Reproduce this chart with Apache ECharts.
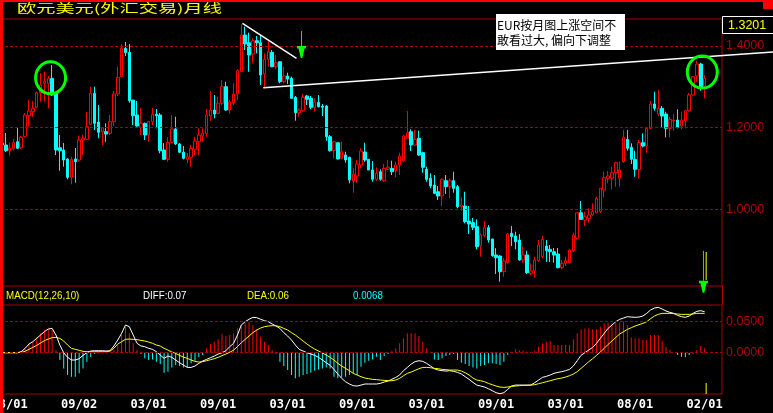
<!DOCTYPE html>
<html><head><meta charset="utf-8">
<script src="https://cdn.jsdelivr.net/npm/echarts@6/dist/echarts.min.js"></script>
<style>html,body{margin:0;padding:0;background:#000;overflow:hidden}#c{width:773px;height:413px;}</style>
</head><body><div id="c"></div>
<script>
// ---- data (monthly EUR/USD) ----
const openP = [1.1623,1.1574,1.1434,1.1493,1.1654,1.1517,1.1777,1.2292,1.2390,1.2498,1.2855,1.3086,1.3086,1.3208,1.2841,1.1507,1.1451,1.1230,1.0782,1.1230,
1.1206,1.1696,1.1713,1.2081,1.2841,1.2137,1.1900,1.1900,1.1860,1.2145,1.2824,1.3248,1.3944,1.3846,1.2676,1.2309,1.2007,1.2105,1.1819,1.2145,
1.2326,1.2309,1.1451,1.1223,1.1640,1.1966,1.1598,1.1395,1.1223,1.1272,1.1468,1.1654,1.1794,1.1860,1.2284,1.2431,1.2350,1.2596,1.3002,1.2431,
1.2610,1.2824,1.3370,1.4270,1.4081,1.3804,1.4130,1.4081,1.3314,1.3674,1.3846,1.3493,1.3615,1.3125,1.3265,1.3208,1.2743,1.2365,1.2414,1.2775,
1.2718,1.2498,1.2620,1.2529,1.2529,1.1777,1.1434,1.1630,1.1248,1.1328,1.1272,1.0691,1.0814,1.1083,1.1402,1.1223,1.0961,1.0733,1.0919,1.0699,
1.0978,1.1002,1.0944,1.1083,1.1189,1.1738,1.1900,1.1574,1.1738,1.1385,1.0978,1.0757,1.0593,1.0429,1.0324,1.0699,1.0552,1.0699,1.0552,1.0061,
1.0078,0.9711,0.9670,0.9572,0.9106,0.9351,0.9547,0.9270,0.8878,0.8853,0.8468,0.8690,0.9409,0.9343,0.9245,0.8755,0.8878,0.8429,0.8493,0.8738,
0.8836,0.9098,0.9017,0.8958,0.8902,0.8567,0.8674,0.8690,0.8983,0.9287,0.9914,0.9735,0.9776,0.9858,0.9914,0.9939,1.0471,1.0757,1.0757,1.0895,
1.0757,1.1164,1.1713,1.1517,1.1223,1.0978,1.1630,1.1549,1.1983,1.2578,1.2333,1.2473,1.2333,1.1983,1.2169,1.2186,1.2039,1.2169,1.2414,1.2799,
1.3265,1.3559,1.3020];
const closeP = [1.1574,1.1434,1.1500,1.1630,1.1493,1.1762,1.2309,1.2407,1.2473,1.2855,1.3044,1.3125,1.3208,1.2799,1.1451,1.1434,1.1206,1.0782,1.1223,1.1164,
1.1696,1.1738,1.2022,1.2841,1.2105,1.1885,1.1997,1.1843,1.2145,1.2824,1.3233,1.3944,1.3836,1.2659,1.2292,1.2039,1.2105,1.1819,1.2145,1.2326,
1.2292,1.1434,1.1223,1.1640,1.1966,1.1598,1.1395,1.1248,1.1287,1.1493,1.1672,1.1819,1.1860,1.2309,1.2431,1.2333,1.2596,1.3002,1.2431,1.2635,
1.2824,1.3395,1.4270,1.4049,1.3779,1.4130,1.4081,1.3289,1.3674,1.3860,1.3493,1.3591,1.3125,1.3265,1.3191,1.2718,1.2365,1.2431,1.2743,1.2694,
1.2498,1.2620,1.2512,1.2498,1.1777,1.1434,1.1654,1.1230,1.1409,1.1206,1.0716,1.0863,1.1108,1.1426,1.1206,1.0961,1.0733,1.0880,1.0733,1.1002,
1.1027,1.0919,1.1083,1.1304,1.1794,1.1875,1.1574,1.1713,1.1328,1.1027,1.0733,1.0569,1.0390,1.0324,1.0733,1.0552,1.0699,1.0512,1.0061,1.0103,
0.9694,0.9637,0.9556,0.9081,0.9368,0.9547,0.9245,0.8860,0.8811,0.8468,0.8731,0.9392,0.9327,0.9204,0.8755,0.8878,0.8444,0.8486,0.8755,0.9123,
0.9262,0.8983,0.8958,0.8878,0.8567,0.8674,0.8739,0.9000,0.9368,0.9914,0.9752,0.9816,0.9858,0.9939,1.0267,1.0512,1.0772,1.0814,1.0895,1.1140,
1.0961,1.1762,1.1493,1.1223,1.0978,1.1630,1.1549,1.1983,1.2578,1.2473,1.2473,1.2284,1.1983,1.2203,1.2186,1.2007,1.2186,1.2414,1.2799,1.3248,
1.3559,1.2963,1.3201];
const lowP = [1.1500,1.1402,1.1311,1.1434,1.1475,1.1475,1.1762,1.2022,1.2260,1.2473,1.2635,1.2635,1.2473,1.2775,1.1328,1.0944,1.1042,1.0733,1.0610,1.0649,
1.1164,1.1328,1.1696,1.2064,1.1941,1.1738,1.1574,1.1654,1.1819,1.2039,1.2775,1.3240,1.3755,1.2610,1.2064,1.2022,1.1819,1.1696,1.1654,1.2064,
1.1983,1.1370,1.1206,1.1164,1.1615,1.1574,1.1377,1.1223,1.1132,1.1042,1.1328,1.1328,1.1654,1.1777,1.2169,1.2228,1.2333,1.2554,1.2414,1.2350,
1.2554,1.2676,1.3355,1.3902,1.3370,1.3576,1.3821,1.3044,1.2963,1.3493,1.3478,1.3429,1.3086,1.3086,1.3069,1.2718,1.2169,1.2267,1.2390,1.2554,
1.2449,1.2390,1.2498,1.2284,1.1679,1.1414,1.1248,1.1223,1.1223,1.1140,1.0635,1.0405,1.0649,1.1002,1.1164,1.0961,1.0674,1.0699,1.0699,1.0674,
1.0961,1.0838,1.0782,1.0838,1.1164,1.1738,1.1426,1.1549,1.1304,1.0895,1.0674,1.0512,1.0373,1.0225,1.0078,1.0373,1.0267,1.0405,1.0022,0.9963,
0.9654,0.9392,0.9490,0.9017,0.8836,0.9327,0.9180,0.8836,0.8412,0.8223,0.8346,0.8670,0.9098,0.9017,0.8738,0.8690,0.8412,0.8388,0.8331,0.8714,
0.8796,0.8714,0.8706,0.8690,0.8551,0.8527,0.8608,0.8674,0.8958,0.9262,0.9735,0.9588,0.9670,0.9833,0.9899,0.9914,1.0292,1.0635,1.0488,1.0552,
1.0552,1.1140,1.1434,1.1108,1.0797,1.0757,1.1517,1.1385,1.1958,1.2414,1.2284,1.2007,1.1762,1.1762,1.1924,1.1983,1.1958,1.1983,1.2390,1.2775,
1.3125,1.2904,1.2718];
const highP = [1.1696,1.1868,1.1630,1.1721,1.2007,1.1794,1.2358,1.2676,1.2652,1.2880,1.3338,1.3370,1.3265,1.3534,1.2848,1.1819,1.1623,1.1255,1.1287,1.1500,
1.1794,1.1819,1.2382,1.3002,1.3002,1.2554,1.1997,1.2105,1.2309,1.2897,1.3493,1.4049,1.4098,1.4049,1.2676,1.2652,1.2480,1.2120,1.2169,1.2480,
1.2456,1.2358,1.1623,1.1762,1.2309,1.2267,1.1623,1.1549,1.1377,1.1574,1.1777,1.1983,1.1983,1.2456,1.2897,1.2799,1.2758,1.3167,1.3125,1.2676,
1.3086,1.3429,1.4532,1.4473,1.4326,1.4189,1.4245,1.4270,1.3821,1.4147,1.3902,1.3779,1.3615,1.3493,1.3346,1.3248,1.2775,1.2473,1.2824,1.2799,
1.2775,1.2718,1.2799,1.2578,1.2554,1.1819,1.1679,1.1630,1.1654,1.1409,1.1287,1.1002,1.1206,1.1493,1.1630,1.1223,1.1181,1.1027,1.0978,1.1108,
1.1206,1.1189,1.1164,1.1385,1.1819,1.2407,1.1958,1.1941,1.1924,1.1409,1.1042,1.0880,1.0838,1.0569,1.0757,1.0838,1.0757,1.0919,1.0593,1.0292,
1.0429,1.0078,0.9784,0.9752,0.9409,0.9711,0.9613,0.9270,0.9045,0.8878,0.8796,0.9417,0.9588,0.9449,0.9392,0.9082,0.8983,0.8674,0.8836,0.9245,
0.9343,0.9245,0.9123,0.9049,0.9049,0.8755,0.8836,0.9017,0.9425,0.9914,1.0201,0.9939,1.0022,1.0144,1.0307,1.0512,1.0919,1.0936,1.1042,1.1164,
1.1164,1.1941,1.1941,1.1615,1.1434,1.1696,1.1860,1.2022,1.2652,1.2880,1.2922,1.2529,1.2390,1.2267,1.2333,1.2449,1.2390,1.2431,1.2855,1.3265,
1.3640,1.3591,1.3289];
const macdHist = [0,0,0,0,0,0.0032,0.0070,0.0151,0.0177,0.0247,0.0312,0.0366,0.0382,0.0366,0.0043,-0.0118,-0.0253,-0.0360,-0.0387,-0.0387,
-0.0333,-0.0253,-0.0145,-0.0065,-0.0022,0.0032,0.0020,0.0010,0.0030,0.0043,0.0124,0.0285,0.0419,0.0312,0.0151,0.0043,-0.0022,-0.0091,-0.0118,-0.0108,
-0.0145,-0.0183,-0.0323,-0.0306,-0.0237,-0.0199,-0.0215,-0.0237,-0.0237,-0.0172,-0.0129,-0.0075,-0.0038,0.0070,0.0140,0.0177,0.0215,0.0301,0.0269,0.0285,
0.0312,0.0392,0.0446,0.0484,0.0500,0.0446,0.0376,0.0258,0.0177,0.0124,0.0043,-0.0011,-0.0145,-0.0215,-0.0280,-0.0360,-0.0414,-0.0387,-0.0360,-0.0344,
-0.0323,-0.0290,-0.0269,-0.0253,-0.0237,-0.0253,-0.0387,-0.0414,-0.0398,-0.0387,-0.0360,-0.0333,-0.0360,-0.0226,-0.0161,-0.0129,-0.0108,-0.0065,-0.0118,-0.0054,
-0.0022,0.0032,0.0070,0.0151,0.0231,0.0312,0.0312,0.0312,0.0269,0.0177,0.0070,0.0016,-0.0108,-0.0118,-0.0091,-0.0054,-0.0038,-0.0022,-0.0118,-0.0161,
-0.0183,-0.0215,-0.0237,-0.0253,-0.0215,-0.0199,-0.0172,-0.0172,-0.0183,-0.0199,-0.0145,-0.0038,0.0016,0.0054,0.0043,0.0032,0.0016,0.0011,0.0032,0.0097,
0.0151,0.0177,0.0188,0.0124,0.0124,0.0124,0.0124,0.0124,0.0215,0.0312,0.0376,0.0392,0.0392,0.0376,0.0376,0.0419,0.0473,0.0484,0.0473,0.0473,
0.0484,0.0500,0.0446,0.0247,0.0231,0.0231,0.0204,0.0204,0.0285,0.0285,0.0285,0.0194,0.0097,0.0043,0,-0.0038,-0.0065,-0.0075,-0.0038,-0.0011,
0.0043,0.0108,0.0070];
const macdDiff = [0,0,0,0,0,0.0016,0.0070,0.0140,0.0177,0.0231,0.0285,0.0339,0.0382,0.0392,0.0285,0.0124,0,-0.0075,-0.0118,-0.0118,
-0.0097,-0.0043,0,0.0027,0.0032,0.0032,0.0032,0.0027,0.0032,0.0108,0.0204,0.0312,0.0446,0.0419,0.0285,0.0151,0.0108,0.0097,0.0070,0.0054,
0.0016,-0.0038,-0.0091,-0.0054,-0.0075,-0.0118,-0.0161,-0.0199,-0.0237,-0.0237,-0.0215,-0.0172,-0.0134,-0.0108,-0.0081,-0.0054,-0.0022,0,0.0032,0.0097,
0.0151,0.0285,0.0446,0.0500,0.0538,0.0570,0.0565,0.0538,0.0516,0.0500,0.0462,0.0430,0.0392,0.0323,0.0269,0.0204,0.0124,0.0054,0.0027,0,
-0.0022,-0.0043,-0.0075,-0.0118,-0.0161,-0.0204,-0.0269,-0.0344,-0.0414,-0.0468,-0.0505,-0.0532,-0.0538,-0.0522,-0.0505,-0.0505,-0.0505,-0.0505,-0.0495,-0.0473,
-0.0457,-0.0430,-0.0398,-0.0360,-0.0290,-0.0237,-0.0183,-0.0145,-0.0129,-0.0140,-0.0172,-0.0215,-0.0258,-0.0280,-0.0290,-0.0296,-0.0290,-0.0301,-0.0317,-0.0344,
-0.0387,-0.0430,-0.0478,-0.0522,-0.0538,-0.0554,-0.0581,-0.0613,-0.0645,-0.0661,-0.0645,-0.0591,-0.0538,-0.0522,-0.0522,-0.0522,-0.0522,-0.0522,-0.0484,-0.0441,
-0.0398,-0.0382,-0.0360,-0.0333,-0.0317,-0.0306,-0.0290,-0.0269,-0.0215,-0.0129,-0.0043,0,0.0043,0.0086,0.0151,0.0231,0.0312,0.0392,0.0446,0.0500,
0.0538,0.0559,0.0581,0.0575,0.0570,0.0575,0.0591,0.0634,0.0688,0.0720,0.0731,0.0704,0.0672,0.0650,0.0634,0.0602,0.0581,0.0570,0.0591,0.0634,
0.0667,0.0677,0.0661];
const macdDea = [0,0,0,0,0,0.0005,0.0022,0.0054,0.0086,0.0118,0.0156,0.0194,0.0220,0.0242,0.0247,0.0231,0.0188,0.0124,0.0070,0.0054,
0.0038,0.0022,0.0016,0.0016,0.0016,0.0016,0.0016,0.0016,0.0027,0.0070,0.0140,0.0177,0.0215,0.0220,0.0215,0.0210,0.0199,0.0188,0.0172,0.0151,
0.0124,0.0108,0.0070,0.0043,0.0011,-0.0011,-0.0043,-0.0070,-0.0091,-0.0118,-0.0140,-0.0151,-0.0145,-0.0129,-0.0113,-0.0097,-0.0075,-0.0048,-0.0022,0.0005,
0.0043,0.0097,0.0161,0.0215,0.0269,0.0323,0.0366,0.0398,0.0419,0.0430,0.0435,0.0435,0.0419,0.0392,0.0366,0.0323,0.0285,0.0237,0.0188,0.0140,
0.0097,0.0059,0.0027,-0.0005,-0.0038,-0.0075,-0.0118,-0.0172,-0.0215,-0.0253,-0.0290,-0.0333,-0.0360,-0.0387,-0.0409,-0.0419,-0.0430,-0.0435,-0.0441,-0.0446,
-0.0452,-0.0452,-0.0441,-0.0414,-0.0371,-0.0333,-0.0312,-0.0285,-0.0258,-0.0237,-0.0237,-0.0242,-0.0253,-0.0258,-0.0269,-0.0274,-0.0280,-0.0280,-0.0280,-0.0296,
-0.0323,-0.0360,-0.0409,-0.0441,-0.0452,-0.0468,-0.0495,-0.0516,-0.0538,-0.0554,-0.0559,-0.0554,-0.0543,-0.0538,-0.0532,-0.0527,-0.0527,-0.0522,-0.0516,-0.0500,
-0.0484,-0.0468,-0.0452,-0.0435,-0.0419,-0.0409,-0.0392,-0.0371,-0.0344,-0.0306,-0.0253,-0.0199,-0.0145,-0.0097,-0.0043,0.0011,0.0070,0.0134,0.0188,0.0247,
0.0301,0.0339,0.0376,0.0403,0.0430,0.0452,0.0473,0.0500,0.0548,0.0591,0.0618,0.0634,0.0634,0.0634,0.0629,0.0624,0.0618,0.0618,0.0618,0.0624,
0.0634,0.0634,0.0634];
const xLabelIdx  = [2, 20, 38, 56, 74, 92, 110, 128, 146, 164, 182];
const xLabelText = ['03/01','09/02','03/01','09/01','03/01','09/01','03/01','09/01','03/01','08/01','02/01'];
const priceTicks = [1.0, 1.2, 1.4];
const macdTicks = [0, 0.05];
const slotCount = 187;            // 183 months + empty room on the right
const titleText = '欧元美元(外汇交易)月线';
const noteText = 'EUR按月图上涨空间不\n敢看过大, 偏向下调整';
const lastPrice = '1.3201';
const macdName = 'MACD(12,26,10)', diffText = 'DIFF:0.07', deaText = 'DEA:0.06', histText = '0.0068';
// annotations in data coordinates [monthIndex, price]
const trendLines = [[[62.3, 1.4556], [76.3, 1.3699]], [[67.7, 1.2978], [199.7, 1.3855]]];
const circles = [[12.6, 1.322], [181.4, 1.336]];
const arrows = [{tip: [77.6, 1.3706], top: 1.4368}, {tip: [181.7, 0.7953], top: 0.8976}];
const cursorIdx = 182.4;
const cursorPrice = [0.8951, 0.8265];
const cursorMacd = [-0.0489, -0.0666];

const categories = Array.from({length: slotCount}, (_, i) => {
  const y = 1990 + Math.floor(i / 12), m = i % 12 + 1;
  return y + '-' + (m < 10 ? '0' : '') + m;
});
const candles = openP.map((o, i) => [o, closeP[i], lowP[i], highP[i]]);

const RED = '#ff0000', CYAN = '#00ffff', YEL = '#ffff00', DK = '#a80000', LAB = '#b40000';
const NARROW = "'Liberation Sans Narrow','Arial Narrow','Liberation Sans',Arial,sans-serif";

const chart = echarts.init(document.getElementById('c'), null, {renderer: 'canvas'});
const dashed = (vals) => ({
  silent: true, symbol: 'none', label: {show: false},
  lineStyle: {color: DK, type: [3, 2], width: 1},
  data: vals.map(v => ({yAxis: v}))
});
chart.setOption({
  backgroundColor: '#000',
  animation: false,
  grid: [
    {left: 0, top: 19, width: 722, height: 267, show: true, borderColor: DK, borderWidth: 1,
     backgroundColor: 'transparent', containLabel: false, outerBoundsMode: 'none'},
    {left: 0, top: 305, width: 722, height: 89, show: true, borderColor: DK, borderWidth: 1,
     backgroundColor: 'transparent', containLabel: false, outerBoundsMode: 'none'}
  ],
  xAxis: [
    {type: 'category', gridIndex: 0, data: categories, boundaryGap: true,
     axisLine: {show: false}, axisTick: {show: false}, axisLabel: {show: false}, splitLine: {show: false}},
    {type: 'category', gridIndex: 1, data: categories, boundaryGap: true,
     axisLine: {show: false}, axisTick: {show: false}, splitLine: {show: false},
     axisLabel: {interval: (i) => xLabelIdx.indexOf(i) >= 0,
       formatter: (v, i) => xLabelText[xLabelIdx.indexOf(i)] || '',
       color: '#ffffff', fontFamily: 'DejaVu Sans Mono', fontWeight: 'bold', fontSize: 12, margin: 5}}
  ],
  yAxis: [
    {type: 'value', gridIndex: 0, position: 'right', min: 0.8118, max: 1.4662, scale: true,
     axisLine: {show: false}, axisTick: {show: false}, splitLine: {show: false},
     axisLabel: {customValues: priceTicks, formatter: v => v.toFixed(4), color: LAB, fontSize: 12.5, fontFamily: NARROW, margin: 4}},
    {type: 'value', gridIndex: 1, position: 'right', min: -0.0666, max: 0.0769, scale: true,
     axisLine: {show: false}, axisTick: {show: false}, splitLine: {show: false},
     axisLabel: {customValues: macdTicks, formatter: v => v.toFixed(4), color: LAB, fontSize: 12.5, fontFamily: NARROW, margin: 4}}
  ],
  series: [
    {type: 'candlestick', xAxisIndex: 0, yAxisIndex: 0, data: candles, barWidth: 3,
     itemStyle: {color: '#000000', color0: CYAN, borderColor: RED, borderColor0: CYAN, borderWidth: 1},
     markLine: dashed(priceTicks)},
    {type: 'bar', xAxisIndex: 1, yAxisIndex: 1, barWidth: 1,
     data: macdHist.map(v => ({value: v, itemStyle: {color: v >= 0 ? RED : CYAN}})),
     markLine: dashed(macdTicks)},
    {type: 'line', xAxisIndex: 1, yAxisIndex: 1, data: macdDiff, showSymbol: false, symbol: 'none',
     lineStyle: {color: '#ffffff', width: 1}, z: 4},
    {type: 'line', xAxisIndex: 1, yAxisIndex: 1, data: macdDea, showSymbol: false, symbol: 'none',
     lineStyle: {color: YEL, width: 1}, z: 4}
  ]
});

// pixel helpers built from the axes themselves
function mapper(gridIndex, v0, v1) {
  const a = chart.convertToPixel({gridIndex}, [0, v0]);
  const b = chart.convertToPixel({gridIndex}, [10, v1]);
  const sx = (b[0] - a[0]) / 10;
  return {
    x: k => a[0] + k * sx,
    y: v => a[1] + (v - v0) * (b[1] - a[1]) / (v1 - v0)
  };
}
const P = mapper(0, 1.0, 1.4);
const M = mapper(1, 0, 0.05);

const G = [];
const Z = 50;
// frame
G.push({type: 'rect', z: Z + 5, shape: {x: 0, y: 0, width: 3, height: 413}, style: {fill: RED}});
G.push({type: 'rect', z: Z + 5, shape: {x: 0, y: 0, width: 773, height: 2}, style: {fill: RED}});
G.push({type: 'rect', z: Z + 5, shape: {x: 763, y: 0, width: 10, height: 9}, style: {fill: RED}});
G.push({type: 'line', z: Z, shape: {x1: 722.5, y1: 286, x2: 722.5, y2: 305}, style: {stroke: DK, lineWidth: 1}});
// title
G.push({type: 'text', z: Z, x: 17, y: 8.5, scaleX: 1.6,
  style: {text: titleText, fill: YEL, fontSize: 12, fontFamily: 'Noto Sans CJK SC', textVerticalAlign: 'middle'}});
// last price box
G.push({type: 'rect', z: Z, shape: {x: 722.5, y: 16.5, width: 52, height: 17}, style: {fill: '#000', stroke: '#ffffff', lineWidth: 1}});
G.push({type: 'text', z: Z + 1, x: 728, y: 25.5,
  style: {text: lastPrice, fill: YEL, fontSize: 12.5, fontFamily: NARROW, textVerticalAlign: 'middle'}});
// note box
G.push({type: 'rect', z: Z, shape: {x: 496, y: 14, width: 129, height: 36}, style: {fill: '#ffffff'}});
G.push({type: 'text', z: Z + 1, x: 497, y: 18,
  style: {text: noteText, fill: '#000000', fontSize: 12, lineHeight: 15, fontFamily: 'Noto Sans CJK SC'}});
// MACD header
const hdr = [[macdName, 6, YEL], [diffText, 143, '#ffffff'], [deaText, 247, YEL], [histText, 353, CYAN]];
hdr.forEach(h => G.push({type: 'text', z: Z, x: h[1], y: 295.5, scaleX: 0.85,
  style: {text: h[0], fill: h[2], fontSize: 11.5, fontFamily: 'Liberation Sans', textVerticalAlign: 'middle'}}));
// trend lines
trendLines.forEach(t => G.push({type: 'line', z: Z,
  shape: {x1: P.x(t[0][0]), y1: P.y(t[0][1]), x2: P.x(t[1][0]), y2: P.y(t[1][1])},
  style: {stroke: '#ffffff', lineWidth: 1.5}}));
// circles
circles.forEach(c => G.push({type: 'ellipse', z: Z,
  shape: {cx: P.x(c[0]), cy: P.y(c[1]), rx: 15, ry: 16},
  style: {fill: 'none', stroke: '#00ff00', lineWidth: 3}}));
// arrows
arrows.forEach(a => {
  const tx = P.x(a.tip[0]), ty = P.y(a.tip[1]), top = P.y(a.top);
  G.push({type: 'line', z: Z, shape: {x1: tx, y1: top, x2: tx, y2: ty - 12}, style: {stroke: '#00ff00', lineWidth: 1}});
  G.push({type: 'polygon', z: Z, shape: {points: [[tx - 4.5, ty - 12], [tx + 4.5, ty - 12], [tx + 4.5, ty - 9.5], [tx + 3, ty - 9.5], [tx + 0.8, ty], [tx - 0.8, ty], [tx - 3, ty - 9.5], [tx - 4.5, ty - 9.5]]},
    style: {fill: '#00ff00'}});
});
// cursor marks
G.push({type: 'line', z: Z, shape: {x1: P.x(cursorIdx), y1: P.y(cursorPrice[0]), x2: P.x(cursorIdx), y2: P.y(cursorPrice[1])}, style: {stroke: YEL, lineWidth: 1}});
G.push({type: 'line', z: Z, shape: {x1: M.x(cursorIdx), y1: M.y(cursorMacd[0]), x2: M.x(cursorIdx), y2: M.y(cursorMacd[1])}, style: {stroke: YEL, lineWidth: 1}});

chart.setOption({graphic: G});
</script></body></html>
